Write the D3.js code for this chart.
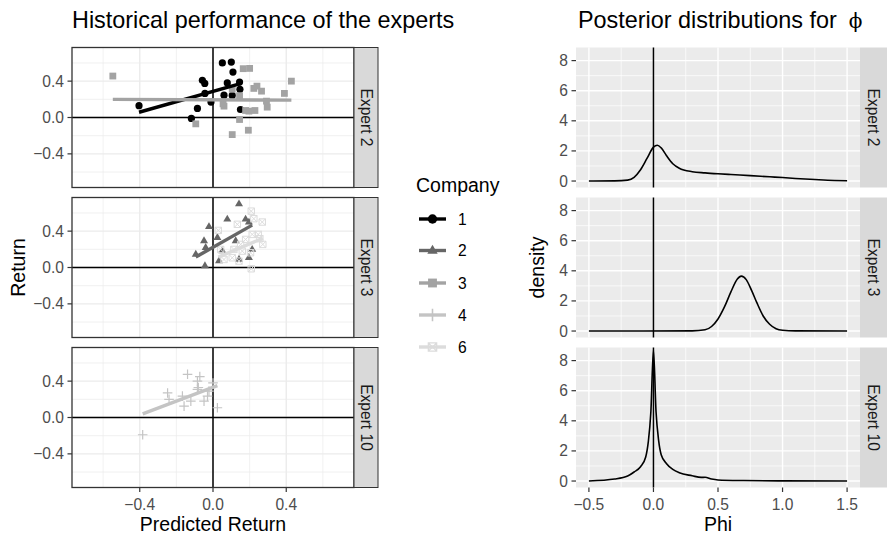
<!DOCTYPE html>
<html>
<head>
<meta charset="utf-8">
<script src="https://cdn.jsdelivr.net/npm/d3@7"></script>
<style>
body { margin: 0; background: #fff; }
text { font-family: "Liberation Sans", Arial, sans-serif; }
</style>
</head>
<body>
<svg id="chart" width="887" height="534"></svg>
<script>
'use strict';

// ---- data ----
var experts = ['Expert 2', 'Expert 3', 'Expert 10'];
var companies = ['1', '2', '3', '4', '6'];

var expert2Company1 = [
    [-0.404, 0.13], [-0.118, -0.01], [-0.085, 0.10], [-0.058, 0.41], [-0.045, 0.375],
    [-0.044, 0.265], [-0.011, 0.17], [0.051, 0.60], [0.10, 0.61], [0.109, 0.50],
    [0.078, 0.38], [0.145, 0.39], [0.147, 0.31], [0.06, 0.246], [0.105, 0.243], [0.15, 0.088]
];
var expert2Company3 = [
    [-0.547, 0.456], [-0.094, -0.07], [0.06, 0.125], [0.055, 0.15], [0.105, -0.188],
    [0.105, 0.31], [0.145, -0.022], [0.145, 0.24], [0.165, 0.537], [0.20, 0.54],
    [0.178, 0.077], [0.196, 0.07], [0.229, 0.077], [0.193, -0.14], [0.223, 0.32],
    [0.24, 0.345], [0.265, 0.29], [0.292, 0.18], [0.296, 0.114], [0.39, 0.265], [0.428, 0.40]
];
var expert3Company2 = [
    [-0.094, 0.147], [-0.049, 0.295], [-0.04, 0.22], [-0.044, 0.02], [-0.022, 0.45],
    [0.024, 0.33], [0.033, 0.074], [0.051, 0.184], [0.078, 0.533], [0.124, 0.295],
    [0.142, 0.70], [0.142, 0.092], [0.178, 0.533], [0.196, 0.50], [0.196, 0.11], [0.214, 0.20]
];
var expert3Company6 = [
    [0.029, 0.408], [0.042, 0.199], [0.06, 0.088], [0.105, 0.107], [0.114, 0.199],
    [0.133, 0.475], [0.142, 0.07], [0.151, 0.254], [0.16, 0.18], [0.178, 0.309],
    [0.205, 0.162], [0.209, 0.62], [0.209, -0.014], [0.214, 0.364], [0.223, 0.537],
    [0.247, 0.364], [0.256, 0.317], [0.269, 0.50], [0.272, 0.254]
];
var expert10Company4 = [
    [-0.384, -0.19], [-0.248, 0.27], [-0.24, 0.20], [-0.167, 0.235], [-0.158, 0.125],
    [-0.139, 0.475], [-0.121, 0.18], [-0.085, 0.31], [-0.085, 0.40], [-0.08, 0.33],
    [-0.072, 0.45], [-0.049, 0.18], [-0.03, 0.235], [-0.022, 0.29], [0.0, 0.38], [0.024, 0.107]
];

// linear fits (intercept, slope) per expert/company
var fitExpert = ['Expert 2', 'Expert 2', 'Expert 3', 'Expert 3', 'Expert 10'];
var fitCompany = ['1', '3', '2', '6', '4'];
var fitIntercept = [0.288, 0.195, 0.222, 0.09, 0.332];
var fitSlope = [0.57, -0.009, 1.14, 0.85, 0.76];

// posterior densities of phi
var density2X = [-0.5, -0.3, -0.2, -0.15, -0.1, -0.05, 0, 0.03, 0.06, 0.1, 0.15, 0.2, 0.3, 0.4, 0.5, 0.6, 0.75, 0.9, 1.0, 1.1, 1.25, 1.4, 1.5];
var density2Y = [0, 0.01, 0.06, 0.25, 0.75, 1.5, 2.25, 2.38, 2.2, 1.7, 1.15, 0.85, 0.62, 0.54, 0.48, 0.43, 0.36, 0.28, 0.23, 0.17, 0.1, 0.04, 0.02];
var density3X = [-0.5, 0.3, 0.4, 0.45, 0.5, 0.55, 0.6, 0.65, 0.68, 0.72, 0.76, 0.8, 0.85, 0.9, 0.95, 1.0, 1.1, 1.5];
var density3Y = [0, 0.01, 0.08, 0.3, 0.8, 1.6, 2.6, 3.45, 3.65, 3.4, 2.7, 1.9, 1.0, 0.45, 0.15, 0.05, 0.01, 0];
var density10X = [-0.5, -0.3, -0.2, -0.15, -0.1, -0.06, -0.04, -0.02, 0, 0.02, 0.04, 0.06, 0.1, 0.15, 0.2, 0.3, 0.37, 0.4, 0.45, 0.5, 0.7, 1.0, 1.5];
var density10Y = [0, 0.13, 0.33, 0.6, 0.95, 1.6, 2.6, 4.6, 8.7, 4.6, 2.7, 1.75, 1.17, 0.77, 0.55, 0.35, 0.24, 0.25, 0.13, 0.07, 0.03, 0.01, 0];

var leftTicks = [-0.4, 0, 0.4];
var leftMinor = [-0.6, -0.2, 0.2, 0.6];
var phiTicks = [-0.5, 0, 0.5, 1, 1.5];
var phiMinor = [-0.25, 0.25, 0.75, 1.25];
var densTicks = [0, 2, 4, 6, 8];
var densMinor = [1, 3, 5, 7];

// ---- styling ----
var companyColor = {'1': '#000000', '2': '#666666', '3': '#a3a3a3', '4': '#c4c4c4', '6': '#dcdcdc'};
var panelTop = [47.5, 197.5, 347.5];
var panelH = 140;
var left = {x0: 72, x1: 354, strip: 24};
var right = {x0: 576, x1: 860, strip: 27};

var svg = d3.select('#chart');
var fmt = function(v) { return d3.format('.1f')(v).replace('-', '\u2212'); };

var scatter = {
    'Expert 2': [{c: '1', pts: expert2Company1}, {c: '3', pts: expert2Company3}],
    'Expert 3': [{c: '2', pts: expert3Company2}, {c: '6', pts: expert3Company6}],
    'Expert 10': [{c: '4', pts: expert10Company4}]
};
var densities = {
    'Expert 2': d3.zip(density2X, density2Y),
    'Expert 3': d3.zip(density3X, density3Y),
    'Expert 10': d3.zip(density10X, density10Y)
};

// ggplot shapes 16, 17, 15, 3, 7
function drawShape(g, company, x, y, k) {
    var col = companyColor[company];
    var t = 'translate(' + x + ',' + y + ') scale(' + k + ')';
    if(company === '1') {
        g.append('circle').attr('transform', t).attr('r', 3.6).attr('fill', col);
    } else if(company === '2') {
        g.append('path').attr('transform', t)
            .attr('d', 'M0,-4.4L4,2.5L-4,2.5Z').attr('fill', col);
    } else if(company === '3') {
        g.append('rect').attr('transform', t).attr('x', -3.4).attr('y', -3.4)
            .attr('width', 6.8).attr('height', 6.8).attr('fill', col);
    } else if(company === '4') {
        g.append('path').attr('transform', t)
            .attr('d', 'M-4.8,0H4.8M0,-4.8V4.8')
            .attr('stroke', col).attr('stroke-width', 1.2).attr('fill', 'none');
    } else {
        g.append('path').attr('transform', t)
            .attr('d', 'M-3.2,-3.2H3.2V3.2H-3.2ZM-3.2,-3.2L3.2,3.2M3.2,-3.2L-3.2,3.2')
            .attr('stroke', col).attr('stroke-width', 1).attr('fill', 'none');
    }
}

function stripLabel(x, w, top, label, bordered) {
    svg.append('rect').attr('x', x).attr('y', top).attr('width', w).attr('height', panelH)
        .attr('fill', '#d9d9d9')
        .attr('stroke', bordered ? '#333333' : 'none').attr('stroke-width', 1);
    svg.append('text')
        .attr('transform', 'translate(' + (x + w / 2) + ',' + (top + panelH / 2) + ') rotate(90)')
        .attr('text-anchor', 'middle').attr('dominant-baseline', 'central')
        .attr('font-size', 15.6).attr('fill', '#1a1a1a').text(label);
}

// ---- left: historical performance (theme_bw look) ----
var lx = d3.scaleLinear().domain([-0.77, 0.77]).range([left.x0, left.x1]);

experts.forEach(function(expert, i) {
    var top = panelTop[i];
    var ly = d3.scaleLinear().domain([-0.77, 0.77]).range([top + panelH, top]);
    var g = svg.append('g');

    g.append('rect').attr('x', left.x0).attr('y', top)
        .attr('width', left.x1 - left.x0).attr('height', panelH).attr('fill', '#fff');

    leftMinor.forEach(function(v) {
        g.append('line').attr('x1', lx(v)).attr('x2', lx(v)).attr('y1', top).attr('y2', top + panelH)
            .attr('stroke', '#ebebeb').attr('stroke-width', 0.7);
        g.append('line').attr('x1', left.x0).attr('x2', left.x1).attr('y1', ly(v)).attr('y2', ly(v))
            .attr('stroke', '#ebebeb').attr('stroke-width', 0.7);
    });
    leftTicks.forEach(function(v) {
        g.append('line').attr('x1', lx(v)).attr('x2', lx(v)).attr('y1', top).attr('y2', top + panelH)
            .attr('stroke', '#ebebeb').attr('stroke-width', 1.4);
        g.append('line').attr('x1', left.x0).attr('x2', left.x1).attr('y1', ly(v)).attr('y2', ly(v))
            .attr('stroke', '#ebebeb').attr('stroke-width', 1.4);
    });

    // reference lines at zero
    g.append('line').attr('x1', lx(0)).attr('x2', lx(0)).attr('y1', top).attr('y2', top + panelH)
        .attr('stroke', '#000').attr('stroke-width', 1.5);
    g.append('line').attr('x1', left.x0).attr('x2', left.x1).attr('y1', ly(0)).attr('y2', ly(0))
        .attr('stroke', '#000').attr('stroke-width', 1.5);

    scatter[expert].forEach(function(s) {
        s.pts.forEach(function(p) { drawShape(g, s.c, lx(p[0]), ly(p[1]), 1); });
    });

    // fitted lines over the range of each company's points
    fitExpert.forEach(function(e, k) {
        if(e !== expert) return;
        var pts = scatter[expert].filter(function(s) { return s.c === fitCompany[k]; })[0].pts;
        var ext = d3.extent(pts, function(p) { return p[0]; });
        g.append('line')
            .attr('x1', lx(ext[0])).attr('y1', ly(fitIntercept[k] + fitSlope[k] * ext[0]))
            .attr('x2', lx(ext[1])).attr('y2', ly(fitIntercept[k] + fitSlope[k] * ext[1]))
            .attr('stroke', companyColor[fitCompany[k]]).attr('stroke-width', 3.4);
    });

    g.append('rect').attr('x', left.x0).attr('y', top)
        .attr('width', left.x1 - left.x0).attr('height', panelH)
        .attr('fill', 'none').attr('stroke', '#333333').attr('stroke-width', 1.3);

    // y axis
    leftTicks.forEach(function(v) {
        g.append('line').attr('x1', left.x0 - 4.5).attr('x2', left.x0).attr('y1', ly(v)).attr('y2', ly(v))
            .attr('stroke', '#333333').attr('stroke-width', 1.2);
        g.append('text').attr('x', left.x0 - 8).attr('y', ly(v) + 5.5).attr('text-anchor', 'end')
            .attr('font-size', 15.6).attr('fill', '#4d4d4d').text(fmt(v));
    });

    stripLabel(left.x1, left.strip, top, expert, true);
});

// bottom x axis (left)
leftTicks.forEach(function(v) {
    var b = panelTop[2] + panelH;
    svg.append('line').attr('x1', lx(v)).attr('x2', lx(v)).attr('y1', b).attr('y2', b + 4.5)
        .attr('stroke', '#333333').attr('stroke-width', 1.2);
    svg.append('text').attr('x', lx(v)).attr('y', 509.5).attr('text-anchor', 'middle')
        .attr('font-size', 15.6).attr('fill', '#4d4d4d').text(fmt(v));
});
svg.append('text').attr('x', (left.x0 + left.x1) / 2).attr('y', 530.5).attr('text-anchor', 'middle')
    .attr('font-size', 19.5).attr('fill', '#000').text('Predicted Return');
svg.append('text').attr('transform', 'translate(25,' + (panelTop[0] + panelTop[2] + panelH) / 2 + ') rotate(-90)')
    .attr('text-anchor', 'middle').attr('font-size', 19.5).attr('fill', '#000').text('Return');
svg.append('text').attr('x', left.x0).attr('y', 27.5)
    .attr('font-size', 23.4).attr('fill', '#000').text('Historical performance of the experts');

// legend
var legend = svg.append('g');
legend.append('text').attr('x', 416).attr('y', 191.7).attr('font-size', 19.5).attr('fill', '#000').text('Company');
var legendY = [219, 250.5, 283, 315, 347];
companies.forEach(function(c, i) {
    var y = legendY[i];
    legend.append('line').attr('x1', 419).attr('x2', 446).attr('y1', y).attr('y2', y)
        .attr('stroke', companyColor[c]).attr('stroke-width', 3.4);
    drawShape(legend, c, 432.5, y, 1.3);
    legend.append('text').attr('x', 458).attr('y', y + 5.5)
        .attr('font-size', 15.6).attr('fill', '#000').text(c);
});

// ---- right: posterior densities (theme_grey look) ----
var rx = d3.scaleLinear().domain([-0.6, 1.6]).range([right.x0, right.x1]);

experts.forEach(function(expert, i) {
    var top = panelTop[i];
    var ry = d3.scaleLinear().domain([-0.43, 8.87]).range([top + panelH, top]);
    var g = svg.append('g');

    g.append('rect').attr('x', right.x0).attr('y', top)
        .attr('width', right.x1 - right.x0).attr('height', panelH).attr('fill', '#ebebeb');

    phiMinor.forEach(function(v) {
        g.append('line').attr('x1', rx(v)).attr('x2', rx(v)).attr('y1', top).attr('y2', top + panelH)
            .attr('stroke', '#fff').attr('stroke-width', 0.7);
    });
    densMinor.forEach(function(v) {
        g.append('line').attr('x1', right.x0).attr('x2', right.x1).attr('y1', ry(v)).attr('y2', ry(v))
            .attr('stroke', '#fff').attr('stroke-width', 0.7);
    });
    phiTicks.forEach(function(v) {
        g.append('line').attr('x1', rx(v)).attr('x2', rx(v)).attr('y1', top).attr('y2', top + panelH)
            .attr('stroke', '#fff').attr('stroke-width', 1.4);
    });
    densTicks.forEach(function(v) {
        g.append('line').attr('x1', right.x0).attr('x2', right.x1).attr('y1', ry(v)).attr('y2', ry(v))
            .attr('stroke', '#fff').attr('stroke-width', 1.4);
        g.append('line').attr('x1', right.x0 - 4.5).attr('x2', right.x0).attr('y1', ry(v)).attr('y2', ry(v))
            .attr('stroke', '#333333').attr('stroke-width', 1.2);
        g.append('text').attr('x', right.x0 - 8).attr('y', ry(v) + 5.5).attr('text-anchor', 'end')
            .attr('font-size', 15.6).attr('fill', '#4d4d4d').text(v);
    });

    g.append('path').datum(densities[expert])
        .attr('d', d3.line().x(function(d) { return rx(d[0]); }).y(function(d) { return ry(d[1]); })
            .curve(d3.curveMonotoneX))
        .attr('fill', 'none').attr('stroke', '#000').attr('stroke-width', 1.6);

    g.append('line').attr('x1', rx(0)).attr('x2', rx(0)).attr('y1', top).attr('y2', top + panelH)
        .attr('stroke', '#000').attr('stroke-width', 1.5);

    stripLabel(right.x1, right.strip, top, expert, false);
});

phiTicks.forEach(function(v) {
    var b = panelTop[2] + panelH;
    svg.append('line').attr('x1', rx(v)).attr('x2', rx(v)).attr('y1', b).attr('y2', b + 4.5)
        .attr('stroke', '#333333').attr('stroke-width', 1.2);
    svg.append('text').attr('x', rx(v)).attr('y', 509.5).attr('text-anchor', 'middle')
        .attr('font-size', 15.6).attr('fill', '#4d4d4d').text(fmt(v));
});
svg.append('text').attr('x', (right.x0 + right.x1) / 2).attr('y', 530.5).attr('text-anchor', 'middle')
    .attr('font-size', 19.5).attr('fill', '#000').text('Phi');
svg.append('text').attr('transform', 'translate(544,' + (panelTop[0] + panelTop[2] + panelH) / 2 + ') rotate(-90)')
    .attr('text-anchor', 'middle').attr('font-size', 19.5).attr('fill', '#000').text('density');

var title = svg.append('text').attr('x', right.x0 + 2).attr('y', 27.5)
    .attr('font-size', 23.4).attr('fill', '#000');
title.append('tspan').text('Posterior distributions for');
title.append('tspan').attr('dx', 12).attr('font-family', '"DejaVu Serif", serif')
    .attr('font-size', 20).text('\u03d5');
</script>
</body>
</html>
